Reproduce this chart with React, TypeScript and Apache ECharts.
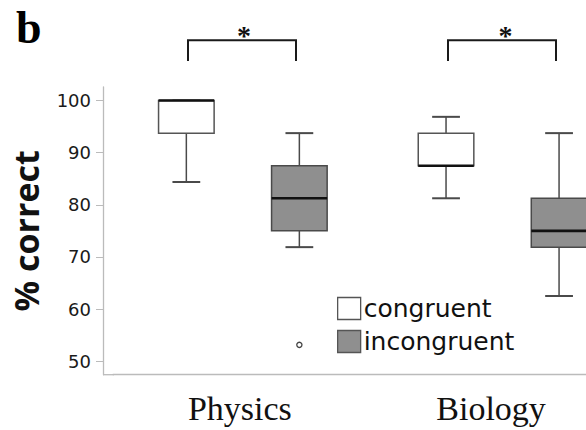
import React, { useEffect, useRef } from 'react';
import * as echarts from 'echarts';

const categories = ['Physics', 'Biology'];
// [min, Q1, median, Q3, max]
const congruent = [
  [84.375, 93.75, 100, 100, 100],
  [81.25, 87.5, 87.5, 93.75, 96.875],
];
const incongruent = [
  [71.875, 75, 81.25, 87.5, 93.75],
  [62.5, 71.875, 75, 81.25, 93.75],
];
// [category index, value]
const incongruentOutliers = [[0, 53.125]];
const yTicks = [50, 60, 70, 80, 90, 100];
const seriesNames = ['congruent', 'incongruent'];
const significance = ['*', '*'];

const BOX_FRAC = 0.214;
const OFFSET_FRAC = 0.2176;
const WHISKER = '#4a4a4a';
const FILLS = ['#ffffff', '#8f8f8f'];
const STROKES = ['#555555', '#4a4a4a'];
const LABEL_PAD_RIGHT = [6, 23];

function makeBoxRenderer(offsetFrac: number, fill: string, stroke: string) {
  return (params: any, api: any) => {
    const cat = api.value(0);
    const band = api.size([1, 0])[0];
    const cx = api.coord([cat, 0])[0] + offsetFrac * band;
    const bw = BOX_FRAC * band;
    const capHalf = bw / 4;
    const py = (v: number) => api.coord([cat, v])[1];
    const yMin = py(api.value(1));
    const yQ1 = py(api.value(2));
    const yMed = py(api.value(3));
    const yQ3 = py(api.value(4));
    const yMax = py(api.value(5));
    const line = (x1: number, y1: number, x2: number, y2: number, w: number, c: string) => ({
      type: 'line',
      shape: { x1, y1, x2, y2 },
      style: { stroke: c, lineWidth: w },
    });
    return {
      type: 'group',
      children: [
        line(cx, yQ3, cx, yMax, 1.5, WHISKER),
        line(cx, yQ1, cx, yMin, 1.5, WHISKER),
        line(cx - capHalf, yMax, cx + capHalf, yMax, 2, WHISKER),
        line(cx - capHalf, yMin, cx + capHalf, yMin, 2, WHISKER),
        {
          type: 'rect',
          shape: { x: cx - bw / 2, y: yQ3, width: bw, height: yQ1 - yQ3 },
          style: { fill, stroke, lineWidth: 1.5 },
        },
        line(cx - bw / 2, yMed, cx + bw / 2, yMed, 2.6, '#111111'),
      ],
    };
  };
}

function makeOutlierRenderer(offsetFrac: number) {
  return (params: any, api: any) => {
    const cat = api.value(0);
    const band = api.size([1, 0])[0];
    const p = api.coord([cat, api.value(1)]);
    return {
      type: 'circle',
      shape: { cx: p[0] + offsetFrac * band, cy: p[1], r: 2.6 },
      style: { fill: '#ffffff', stroke: '#444444', lineWidth: 1.3 },
    };
  };
}

export default function App() {
  const ref = useRef<HTMLDivElement>(null);
  useEffect(() => {
    if (!ref.current) return;
    const chart = echarts.init(ref.current, null, { renderer: 'svg' });
    const groups = [congruent, incongruent];
    const offsets = [-OFFSET_FRAC, OFFSET_FRAC];
    const series: any[] = groups.map((g, gi) => ({
      type: 'custom',
      name: seriesNames[gi],
      renderItem: makeBoxRenderer(offsets[gi], FILLS[gi], STROKES[gi]),
      itemStyle: { color: FILLS[gi], borderColor: STROKES[gi] },
      encode: { x: 0, y: [1, 2, 3, 4, 5] },
      data: g.map((d, i) => [i, ...d]),
      silent: true,
    }));
    series.push({
      type: 'custom',
      name: 'outliers',
      renderItem: makeOutlierRenderer(OFFSET_FRAC),
      encode: { x: 0, y: 1 },
      data: incongruentOutliers,
      silent: true,
    });

    chart.setOption({
      animation: false,
      backgroundColor: '#ffffff',
      grid: { left: 113, width: 519.4, top: 87, height: 287.7, outerBoundsMode: 'none', containLabel: false },
      xAxis: {
        type: 'category',
        data: categories.map((c, i) => ({
          value: c,
          textStyle: { padding: [0, LABEL_PAD_RIGHT[i], 0, 0] },
        })),
        axisLine: { show: true, lineStyle: { color: '#bbbbbb', width: 1.3 } },
        axisTick: { show: false },
        axisLabel: {
          fontFamily: 'Liberation Serif',
          fontSize: 34,
          color: '#111111',
          margin: 17,
        },
        splitLine: { show: false },
      },
      yAxis: {
        type: 'value',
        min: 47.4,
        max: 102.6,
        offset: 10,
        name: '% correct',
        nameLocation: 'middle',
        nameGap: 60,
        nameTextStyle: {
          fontFamily: 'Open Sans',
          fontWeight: 'bold',
          fontSize: 34,
          color: '#111111',
        },
        axisLine: { show: true, lineStyle: { color: '#bbbbbb', width: 1.3 } },
        axisTick: { show: true, length: 7, customValues: yTicks, lineStyle: { color: '#bbbbbb' } },
        axisLabel: {
          customValues: yTicks,
          fontFamily: 'DejaVu Sans',
          fontSize: 18,
          color: '#1a1a1a',
          margin: 12,
        },
        splitLine: { show: false },
      },
      legend: {
        orient: 'vertical',
        left: 337,
        top: 296,
        padding: 0,
        itemWidth: 23,
        itemHeight: 22,
        itemGap: 8,
        icon: 'rect',
        selectedMode: false,
        textStyle: { fontFamily: 'DejaVu Sans', fontSize: 25, color: '#111111', padding: [0, 0, 0, -2] },
        data: [
          { name: seriesNames[0], itemStyle: { color: FILLS[0], borderColor: '#555555', borderWidth: 1.3 } },
          { name: seriesNames[1], itemStyle: { color: FILLS[1], borderColor: '#555555', borderWidth: 1.3 } },
        ],
      },
      graphic: [
        {
          type: 'line',
          shape: { x1: 103, y1: 374.7, x2: 114, y2: 374.7 },
          style: { stroke: '#bbbbbb', lineWidth: 1.3 },
          silent: true,
        },
        {
          type: 'text',
          x: 16,
          y: 27.2,
          style: {
            text: 'b',
            font: 'bold 46px "Liberation Serif"',
            fill: '#000000',
            verticalAlign: 'middle',
          },
        },
        {
          type: 'polyline',
          shape: { points: [[188, 61], [188, 40.3], [296, 40.3], [296, 61]] },
          style: { stroke: '#1a1a1a', lineWidth: 2, fill: 'none' },
        },
        {
          type: 'polyline',
          shape: { points: [[448, 61], [448, 40.3], [556, 40.3], [556, 61]] },
          style: { stroke: '#1a1a1a', lineWidth: 2, fill: 'none' },
        },
        {
          type: 'text',
          x: 244,
          y: 35,
          style: {
            text: significance[0],
            font: 'bold 28px "Liberation Serif"',
            fill: '#111111',
            align: 'center',
            verticalAlign: 'middle',
          },
        },
        {
          type: 'text',
          x: 505.5,
          y: 35,
          style: {
            text: significance[1],
            font: 'bold 28px "Liberation Serif"',
            fill: '#111111',
            align: 'center',
            verticalAlign: 'middle',
          },
        },
      ],
      series,
    });
    return () => chart.dispose();
  }, []);
  return (
    <div
      ref={ref}
      style={{ position: 'fixed', left: 0, top: 0, width: 586, height: 430, background: '#fff' }}
    />
  );
}
